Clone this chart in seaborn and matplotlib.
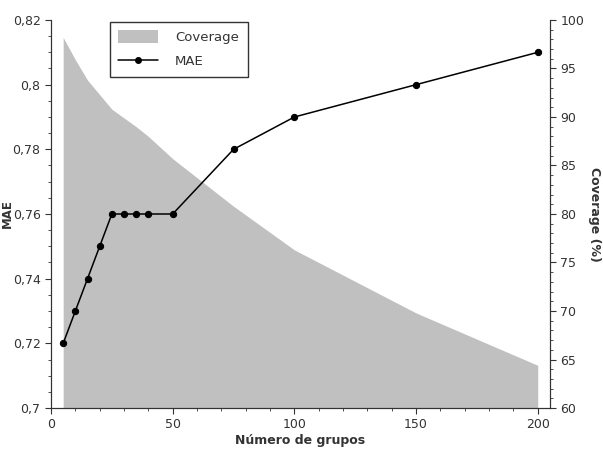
import matplotlib.pyplot as plt
import seaborn as sns
import pandas as pd
import numpy as np
from matplotlib.ticker import MultipleLocator, FuncFormatter
from matplotlib.patches import Patch
from matplotlib.lines import Line2D

sns.set_style("ticks")
plt.rcParams["font.family"] = "DejaVu Sans"

# data
groups = [5, 10, 15, 20, 25, 30, 35, 40, 50, 75, 100, 150, 200]
mae = [0.72, 0.73, 0.74, 0.75, 0.76, 0.76, 0.76, 0.76, 0.76, 0.78, 0.79, 0.80, 0.81]
coverage = [98.2, 95.9, 93.8, 92.3, 90.8, 89.9, 89.0, 88.0, 85.7, 80.8, 76.3, 69.8, 64.4]

df = pd.DataFrame({"groups": groups, "MAE": mae, "Coverage": coverage})

txt = "#333333"
fig = plt.figure(figsize=(6.03, 4.49), dpi=100)
ax = fig.add_subplot(111)
ax2 = ax.twinx()
plt.subplots_adjust(left=0.0846, right=0.912, top=0.9555, bottom=0.0913)

# coverage area on the right axis
ax2.fill_between(df["groups"], 60, df["Coverage"], color="#c0c0c0", linewidth=0)
ax2.set_ylim(60, 100)
ax2.yaxis.set_major_locator(MultipleLocator(5))
ax2.yaxis.set_minor_locator(MultipleLocator(1))
ax2.set_ylabel("Coverage (%)", fontsize=9, fontweight="bold", rotation=270, labelpad=12, color=txt)

# MAE line on top
ax.set_zorder(ax2.get_zorder() + 1)
ax.patch.set_visible(False)
sns.lineplot(data=df, x="groups", y="MAE", ax=ax, color="black", marker="o",
             markersize=4.5, markeredgecolor="black", linewidth=1.1)
ax.set_xlim(0, 205)
ax.set_ylim(0.7, 0.82)
ax.xaxis.set_major_locator(MultipleLocator(50))
ax.xaxis.set_minor_locator(MultipleLocator(10))
ax.yaxis.set_major_locator(MultipleLocator(0.02))
ax.yaxis.set_minor_locator(MultipleLocator(0.005))
ax.yaxis.set_major_formatter(FuncFormatter(lambda v, p: f"{v:.2f}".rstrip("0").replace(".", ",")))
ax.set_xlabel("Número de grupos", fontsize=9, fontweight="bold", color=txt, labelpad=2)
ax.set_ylabel("MAE", fontsize=8.5, fontweight="bold", color=txt)
ax.yaxis.set_label_coords(-0.074, 0.5)

for a in (ax, ax2):
    a.tick_params(which="major", length=4, labelsize=9, labelcolor=txt, color=txt)
    a.tick_params(which="minor", length=2, color=txt)
    for s in a.spines.values():
        s.set_color(txt)
    a.spines["top"].set_visible(False)

handles = [Patch(facecolor="#c0c0c0", edgecolor="none"),
           Line2D([0], [0], color="black", marker="o", markersize=4, linewidth=1.1)]
leg = ax.legend(handles, ["Coverage", "MAE"], loc="upper left", bbox_to_anchor=(0.118, 0.995),
                fontsize=9.5, frameon=True, fancybox=False, edgecolor=txt, framealpha=1,
                handlelength=3.0, handleheight=1.1, borderpad=0.65, labelspacing=0.75,
                handletextpad=1.3, borderaxespad=0)
leg.get_frame().set_linewidth(1.0)
for t in leg.get_texts():
    t.set_color(txt)

fig.savefig("out.png", dpi=100)
